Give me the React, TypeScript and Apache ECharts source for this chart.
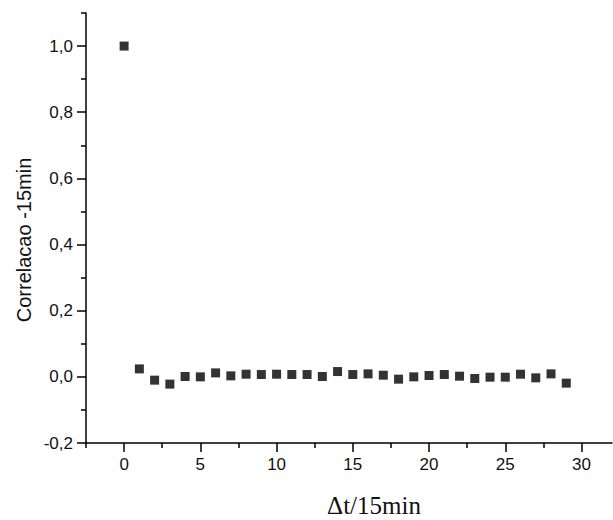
import React, { useEffect, useRef } from "react";
import * as echarts from "echarts";

const lags: number[] = [0,1,2,3,4,5,6,7,8,9,10,11,12,13,14,15,16,17,18,19,20,21,22,23,24,25,26,27,28,29];
const correlation: number[] = [1.0,0.024,-0.01,-0.022,0.001,0.0,0.012,0.003,0.008,0.007,0.008,0.007,0.007,0.001,0.016,0.007,0.009,0.005,-0.007,0.0,0.004,0.007,0.002,-0.005,-0.001,-0.001,0.008,-0.003,0.009,-0.019];
const xMajorTicks: number[] = [0,5,10,15,20,25,30];
const xMinorTicks: number[] = [-2.5,2.5,7.5,12.5,17.5,22.5,27.5];
const yMajorTicks: number[] = [-0.2,0,0.2,0.4,0.6,0.8,1.0];
const yMinorTicks: number[] = [-0.1,0.1,0.3,0.5,0.7,0.9,1.1];
const yTitle = "Correlacao -15min";
const xTitle = "Δt/15min";

export default function App() {
  const ref = useRef<HTMLDivElement>(null);
  useEffect(() => {
    if (!ref.current) return;
    const chart = echarts.init(ref.current, null, { renderer: "svg" });
    const lineStyle = { color: "#000", width: 1.5 };
    const labelFont = { color: "#111", fontFamily: "Liberation Sans, Arial", fontSize: 17 };
    chart.setOption({
      animation: false,
      backgroundColor: "#fff",
      grid: { left: 86, right: 1, top: 13, bottom: 77 },
      xAxis: [
        {
          type: "value", min: -2.5, max: 32,
          axisLine: { show: true, onZero: false, lineStyle },
          axisTick: { show: true, customValues: xMajorTicks, length: 9, lineStyle },
          axisLabel: { customValues: xMajorTicks, margin: 13, ...labelFont, formatter: (v: number) => String(v) },
          splitLine: { show: false },
        },
        {
          type: "value", min: -2.5, max: 32, position: "bottom",
          axisLine: { show: false, onZero: false },
          axisTick: { show: true, customValues: xMinorTicks, length: 5, lineStyle },
          axisLabel: { show: false },
          splitLine: { show: false },
        },
      ],
      yAxis: [
        {
          type: "value", min: -0.2, max: 1.1,
          axisLine: { show: true, onZero: false, lineStyle },
          axisTick: { show: true, customValues: yMajorTicks, length: 9, lineStyle },
          axisLabel: {
            customValues: yMajorTicks, margin: 13, ...labelFont,
            formatter: (v: number) => v.toFixed(1).replace(".", ","),
          },
          splitLine: { show: false },
        },
        {
          type: "value", min: -0.2, max: 1.1, position: "left",
          axisLine: { show: false, onZero: false },
          axisTick: { show: true, customValues: yMinorTicks, length: 5, lineStyle },
          axisLabel: { show: false },
          splitLine: { show: false },
        },
      ],
      graphic: [
        {
          type: "text", x: 24, y: 240, rotation: Math.PI / 2,
          style: {
            text: yTitle, fill: "#111", fontFamily: "Liberation Sans, Arial",
            fontSize: 20, align: "center", verticalAlign: "middle",
          },
        },
        {
          type: "text", x: 374, y: 505,
          style: {
            text: xTitle, fill: "#111", fontFamily: "Liberation Serif, Times New Roman",
            fontSize: 25, align: "center", verticalAlign: "middle",
          },
        },
      ],
      series: [
        {
          type: "scatter",
          xAxisIndex: 0, yAxisIndex: 0,
          symbol: "rect", symbolSize: 9,
          itemStyle: { color: "#000" },
          data: lags.map((x, i) => [x, correlation[i]]),
        },
      ],
    });
    return () => chart.dispose();
  }, []);
  return <div ref={ref} style={{ position: "fixed", left: 0, top: 0, width: 613, height: 520 }} />;
}
